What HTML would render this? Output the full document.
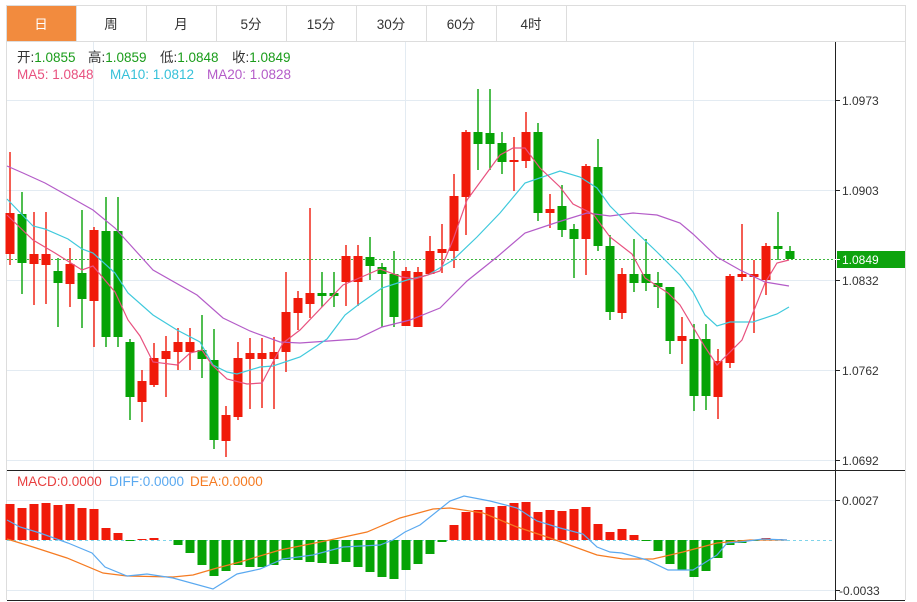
<!DOCTYPE html>
<html><head><meta charset="utf-8"><style>
html,body{margin:0;padding:0;background:#fff;width:917px;height:602px;overflow:hidden}
svg{display:block;font-family:"Liberation Sans","Noto Sans CJK SC",sans-serif}
</style></head><body>
<svg id="s" width="917" height="602" xmlns="http://www.w3.org/2000/svg">
<rect x="0" y="0" width="917" height="602" fill="#fff"/>
<rect x="6.5" y="5.5" width="899" height="36" fill="#fff" stroke="#dddddd"/>
<rect x="7" y="6" width="69" height="35" fill="#f28b3e"/>
<g stroke="#dddddd"><line x1="76.5" y1="6" x2="76.5" y2="41"/><line x1="146.5" y1="6" x2="146.5" y2="41"/><line x1="216.5" y1="6" x2="216.5" y2="41"/><line x1="286.5" y1="6" x2="286.5" y2="41"/><line x1="356.5" y1="6" x2="356.5" y2="41"/><line x1="426.5" y1="6" x2="426.5" y2="41"/><line x1="496.5" y1="6" x2="496.5" y2="41"/><line x1="566.5" y1="6" x2="566.5" y2="41"/></g>
<g font-size="13.5" text-anchor="middle" fill="#333"><text x="41" y="29" fill="#fff">日</text><text x="111" y="29">周</text><text x="181" y="29">月</text><text x="251" y="29">5分</text><text x="321" y="29">15分</text><text x="391" y="29">30分</text><text x="461" y="29">60分</text><text x="531" y="29">4时</text></g>
<line x1="6.5" y1="41" x2="6.5" y2="600" stroke="#dddddd"/>
<line x1="905.5" y1="41" x2="905.5" y2="600" stroke="#dddddd"/>
<g stroke="#e3ebf2"><line x1="7" y1="100.5" x2="835" y2="100.5"/><line x1="7" y1="190.5" x2="835" y2="190.5"/><line x1="7" y1="280.5" x2="835" y2="280.5"/><line x1="7" y1="370.5" x2="835" y2="370.5"/><line x1="7" y1="460.5" x2="835" y2="460.5"/>
<line x1="7" y1="500.5" x2="835" y2="500.5"/><line x1="7" y1="590.5" x2="835" y2="590.5"/>
<line x1="93.5" y1="42" x2="93.5" y2="600"/><line x1="405.5" y1="42" x2="405.5" y2="600"/><line x1="693.5" y1="42" x2="693.5" y2="600"/></g>
<line x1="7" y1="259.5" x2="835" y2="259.5" stroke="#3fb83f" stroke-dasharray="2,2"/>
<line x1="7" y1="540.5" x2="835" y2="540.5" stroke="#7fd4ea" stroke-dasharray="3,3"/>
<g id="c"></g>
<line x1="835.5" y1="42" x2="835.5" y2="600" stroke="#222"/>
<line x1="7" y1="470.5" x2="905" y2="470.5" stroke="#222"/>
<line x1="7" y1="600.5" x2="905" y2="600.5" stroke="#222"/>
<g stroke="#222"><line x1="835" y1="100.5" x2="840" y2="100.5"/><line x1="835" y1="190.5" x2="840" y2="190.5"/><line x1="835" y1="280.5" x2="840" y2="280.5"/><line x1="835" y1="370.5" x2="840" y2="370.5"/><line x1="835" y1="460.5" x2="840" y2="460.5"/><line x1="835" y1="500.5" x2="840" y2="500.5"/><line x1="835" y1="590.5" x2="840" y2="590.5"/></g>
<g font-size="12" fill="#333"><text x="842" y="105">1.0973</text><text x="842" y="195">1.0903</text><text x="842" y="285">1.0832</text><text x="842" y="375">1.0762</text><text x="842" y="465">1.0692</text><text x="842" y="505">0.0027</text><text x="839" y="595">-0.0033</text></g>
<rect x="837" y="251" width="68" height="17" fill="#0ea30e"/>
<line x1="835" y1="259.5" x2="840" y2="259.5" stroke="#fff"/>
<text x="842" y="264" font-size="12" fill="#fff">1.0849</text>
<g font-size="13.5">
<text x="17" y="62" fill="#333">开:<tspan fill="#1a9c1a">1.0855</tspan></text>
<text x="88" y="62" fill="#333">高:<tspan fill="#1a9c1a">1.0859</tspan></text>
<text x="160" y="62" fill="#333">低:<tspan fill="#1a9c1a">1.0848</tspan></text>
<text x="232" y="62" fill="#333">收:<tspan fill="#1a9c1a">1.0849</tspan></text>
<text x="17" y="79" fill="#e8517f">MA5: 1.0848</text><text x="110" y="79" fill="#36c1d9">MA10: 1.0812</text><text x="207" y="79" fill="#b45cc8">MA20: 1.0828</text>
<text x="17" y="486" fill="#e84040">MACD:0.0000</text><text x="109" y="486" fill="#5aa9f0">DIFF:0.0000</text><text x="190" y="486" fill="#f57b22">DEA:0.0000</text></g>
</svg>
<script>
var C=[
['r',213,254,152,265],['g',214,263,192,294],['r',254,264,212,305],['r',254,265,212,304],['g',271,283,258,327],['r',264,284,248,307],['g',273,299,210,328],['r',230,301,227,347],['g',231,337,197,347],['g',231,337,197,347],
['g',342,397,339,420],['r',381,402,370,422],['r',358,385,343,387],['r',351,359,336,397],['r',342,352,328,370],['r',342,352,328,370],['g',350,359,315,378],['g',360,440,329,449],['r',415,441,406,457],['r',358,417,342,420],
['r',353,359,338,409],['r',353,359,338,408],['r',352,359,337,409],['r',312,352,272,372],['r',298,313,291,330],['r',293,304,208,318],['g',293,296,272,307],['g',293,296,272,307],['r',256,282,245,306],['r',256,282,245,306],
['g',257,266,237,280],['g',267,274,263,327],['g',274,317,251,327],['r',271,326,267,326],['r',272,327,267,327],['r',251,274,236,274],['r',249,253,224,273],['r',196,251,174,268],['r',132,197,130,235],['g',132,144,89,170],
['g',133,144,89,170],['g',143,162,132,174],['r',160,162,137,191],['r',132,161,112,168],['g',132,213,123,221],['r',209,213,194,228],['g',206,230,185,237],['g',229,239,224,278],['r',166,239,164,275],['g',167,246,139,251],
['g',246,312,235,320],['r',274,313,268,319],['g',274,283,239,292],['g',274,283,239,291],['g',283,287,272,308],['g',287,341,287,354],['r',336,341,317,364],['g',339,396,324,411],['g',339,396,324,410],['r',361,397,349,419],
['r',276,363,274,368],['r',274,277,224,281],['r',274,277,260,333],['r',246,280,243,295],['g',246,249,212,260],['g',251,259,246,259]];
var M=[504,508,504,503,505,504,508,509,528,533,541,539,538,540,545,553,565,576,571,565,567,567,565,560,560,562,563,564,562,567,572,577,579,570,564,554,542,525,512,510,507,506,503,502,512,510,511,509,507,524,532,529,535,541,551,564,570,577,571,558,545,543,541,538,539,540];
var MA5=[[7,215],[33,240],[55,253],[82,270],[93,266],[115,292],[128,320],[140,336],[153,362],[177,365],[190,353],[202,350],[212,365],[227,379],[247,384],[262,383],[283,343],[300,330],[343,285],[357,279],[380,269],[402,277],[415,279],[440,271],[453,240],[467,200],[500,155],[513,148],[525,148],[540,168],[560,187],[573,204],[593,214],[610,237],[632,254],[645,278],[668,293],[680,305],[705,347],[717,365],[742,340],[765,283],[777,263],[789,260]];
var MA10=[[7,199],[33,226],[45,229],[68,239],[82,249],[93,253],[115,273],[128,293],[153,315],[177,330],[200,342],[213,365],[227,372],[237,374],[260,367],[273,366],[300,357],[327,339],[345,315],[358,305],[382,288],[407,280],[428,275],[453,260],[477,237],[500,213],[525,183],[560,171],[580,177],[597,188],[610,206],[633,229],[657,252],[680,275],[693,292],[705,315],[717,326],[730,322],[753,322],[777,314],[789,307]];
var MA20=[[7,166],[23,173],[45,183],[70,197],[93,210],[115,228],[153,270],[197,295],[223,318],[250,331],[280,342],[300,343],[357,339],[382,327],[410,320],[440,308],[467,281],[497,257],[525,233],[558,222],[587,213],[610,216],[633,213],[657,215],[680,223],[693,234],[717,257],[740,270],[765,282],[789,286]];
var DIFF=[[7,520],[20,527],[40,533],[68,543],[92,553],[105,567],[127,576],[147,574],[173,578],[213,589],[237,574],[260,569],[283,559],[313,555],[343,547],[380,545],[393,540],[405,532],[420,525],[450,501],[464,496],[490,501],[517,508],[537,521],[560,528],[583,534],[597,547],[610,552],[622,553],[647,560],[668,570],[693,570],[717,555],[727,543],[740,542],[763,539],[787,540]];
var DEA=[[7,539],[33,547],[67,558],[103,573],[127,576],[173,577],[193,575],[217,568],[240,562],[280,550],[330,540],[367,532],[400,518],[433,509],[450,508],[483,513],[517,527],[550,538],[597,555],[623,559],[653,559],[683,552],[717,543],[750,540],[787,540]];
var h='';
for(var i=0;i<M.length;i++){var x=10+12*i,v=M[i];if(v==540)continue;var up=v<540;var col=up?'#f01a0a':'#06a306';
h+='<rect x="'+(x-4.5)+'" y="'+Math.min(v,540)+'" width="9" height="'+Math.max(1,Math.abs(v-540))+'" fill="'+col+'"/>';}
for(var i=0;i<C.length;i++){var c=C[i],x=10+12*i,col=c[0]=='r'?'#f01a0a':'#06a306';
h+='<line x1="'+x+'" y1="'+c[3]+'" x2="'+x+'" y2="'+c[4]+'" stroke="'+col+'" stroke-width="1.4"/>';
h+='<rect x="'+(x-4.5)+'" y="'+c[1]+'" width="9" height="'+Math.max(2,c[2]-c[1])+'" fill="'+col+'"/>';}
function pl(p,col){return '<polyline fill="none" stroke="'+col+'" stroke-width="1.2" points="'+p.map(function(a){return a.join(',')}).join(' ')+'"/>';}
h+=pl(MA20,'#b45cc8')+pl(MA10,'#3fc9dc')+pl(MA5,'#e8517f')+pl(DEA,'#f57b22')+pl(DIFF,'#5aa9f0');
document.getElementById('c').innerHTML=h;
</script>
</body></html>
